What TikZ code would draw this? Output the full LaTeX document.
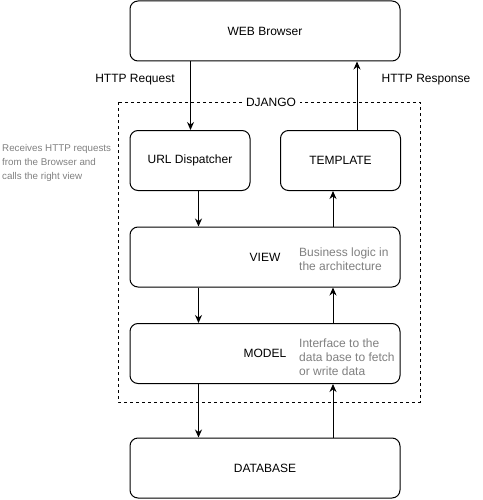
\documentclass[tikz,border=0pt]{standalone}
\usepackage{fontspec}
\setmainfont{Liberation Sans}
\usetikzlibrary{arrows.meta}
\definecolor{note}{HTML}{808080}
\tikzset{
  box/.style={draw=black, line width=1pt, rounded corners=8pt, fill=white, inner sep=0pt, font=\fontsize{12}{14}\selectfont},
  arr/.style={draw=black, line width=1pt, -{Stealth[length=8pt,width=7pt]}},
  lbl/.style={font=\fontsize{12}{14}\selectfont, inner sep=0pt},
  notetxt/.style={text=note, font=\fontsize{12}{14}\selectfont, align=left, anchor=west, inner sep=0pt},
  smallnote/.style={text=note, font=\fontsize{9.8}{14}\selectfont, align=left, anchor=west, inner sep=0pt},
  frame/.style={draw=black, line width=0.9pt, dash pattern=on 3pt off 3pt}
}
\begin{document}
\begin{tikzpicture}[x=1pt,y=-1pt]
\useasboundingbox (0,0) rectangle (482,500);
% Django frame
\draw[frame] (118,102) rectangle (420,402);
\node[lbl, fill=white, inner xsep=4pt, inner ysep=2pt] (django) at (271,102) {DJANGO};
% boxes
\node[box, minimum width=270pt, minimum height=60pt] (browser) at (265,31) {WEB Browser};
\node[box, minimum width=120pt, minimum height=60pt] (url) at (190,160.5) {URL Dispatcher};
\node[box, minimum width=120pt, minimum height=60pt] (tpl) at (340.5,160.5) {TEMPLATE};
\node[box, minimum width=270pt, minimum height=60pt] (view) at (265,257) {VIEW};
\node[box, minimum width=270pt, minimum height=60pt] (model) at (265,353.5) {MODEL};
\node[box, minimum width=270pt, minimum height=60pt] (db) at (265,468) {DATABASE};
% notes
\node[smallnote] (noteurl) at (2,162.5) {Receives HTTP requests\\from the Browser and\\calls the right view};
\node[notetxt] (noteview) at (299,259) {Business logic in\\the architecture};
\node[notetxt] (notemodel) at (299,357) {Interface to the\\data base to fetch\\or write data};
% labels
\node[lbl] (req) at (135,80) {HTTP Request};
\node[lbl] (resp) at (426,80) {HTTP Response};
% connector x positions
\coordinate (xa) at (190.5,0);
\coordinate (xb) at (357,0);
\coordinate (xl) at (198.5,0);
\coordinate (xr) at (333,0);
% arrows
\draw[arr] (browser.south -| xa) -- (url.north -| xa);
\draw[arr] (tpl.north -| xb) -- (browser.south -| xb);
\draw[arr] (url.south -| xl) -- (view.north -| xl);
\draw[arr] (view.north -| xr) -- (tpl.south -| xr);
\draw[arr] (view.south -| xl) -- (model.north -| xl);
\draw[arr] (model.north -| xr) -- (view.south -| xr);
\draw[arr] (model.south -| xl) -- (db.north -| xl);
\draw[arr] (db.north -| xr) -- (model.south -| xr);
\end{tikzpicture}
\end{document}
